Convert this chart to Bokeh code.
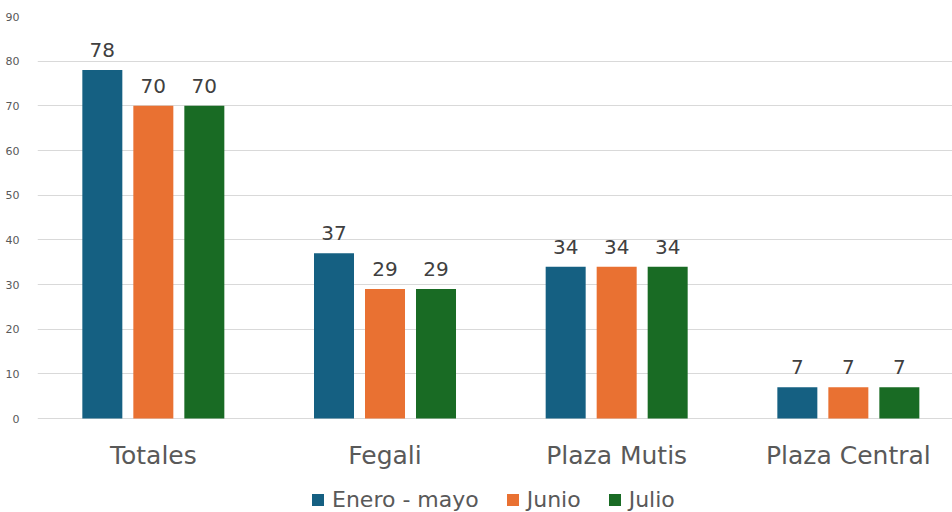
from bokeh.plotting import figure
from bokeh.models import ColumnDataSource, Range1d, FixedTicker, Legend, LegendItem
from bokeh.core.properties import value
from bokeh.embed import file_html
from bokeh.resources import INLINE

categories = ["Totales", "Fegali", "Plaza Mutis", "Plaza Central"]
series_names = ["Enero - mayo", "Junio", "Julio"]
enero_mayo = [78, 37, 34, 7]
junio = [70, 29, 34, 7]
julio = [70, 29, 34, 7]
series_values = [enero_mayo, junio, julio]
colors = ["#156082", "#E97132", "#196B24"]
y_ticks = [0, 10, 20, 30, 40, 50, 60, 70, 80, 90]

FONT = "DejaVu Sans"
W, H = 952, 512
left, top = 37, 16          # frame origin in pixels
zero_px = 418               # pixel row of value 0
cat_px = 231.67             # pixel width of one category band
bar_px = 40
step_px = 51

frame_w = W - left
px_per_unit = (zero_px - top) / 90.0
y_min = -(H - zero_px) / px_per_unit

p = figure(width=W, height=H,
           x_range=Range1d(0, frame_w / cat_px), y_range=Range1d(y_min, 90),
           output_backend="svg", toolbar_location=None,
           min_border_left=left, min_border_right=0, min_border_top=top, min_border_bottom=0)

items = []
for j, (name, vals, col) in enumerate(zip(series_names, series_values, colors)):
    xs = [i + 0.5 + (j - 1) * step_px / cat_px for i in range(len(categories))]
    src = ColumnDataSource(dict(x=xs, top=vals, lab=[str(v) for v in vals]))
    r = p.vbar(x="x", top="top", bottom=0, width=bar_px / cat_px, source=src,
               fill_color=col, line_color=None)
    p.text(x="x", y="top", text="lab", source=src, text_align="center",
           text_baseline="alphabetic", y_offset=-20, text_font=value(FONT),
           text_font_size="20px", text_color="#404040")
    items.append(LegendItem(label=name, renderers=[r]))

cat_src = ColumnDataSource(dict(x=[i + 0.5 for i in range(len(categories))],
                                y=[0] * len(categories), t=categories))
p.text(x="x", y="y", text="t", source=cat_src, text_align="center",
       text_baseline="alphabetic", y_offset=37, text_font=value(FONT),
       text_font_size="25px", text_color="#595959")

p.outline_line_color = None
p.background_fill_color = "white"
p.border_fill_color = "white"
p.xgrid.grid_line_color = None
p.xaxis.visible = False
p.ygrid.grid_line_color = "#D9D9D9"
p.ygrid.grid_line_width = 1

p.yaxis.ticker = FixedTicker(ticks=y_ticks)
p.yaxis.axis_line_color = None
p.yaxis.major_tick_line_color = None
p.yaxis.minor_tick_line_color = None
p.yaxis.major_label_text_font = FONT
p.yaxis.major_label_text_font_size = "11px"
p.yaxis.major_label_text_color = "#595959"
p.yaxis.major_label_standoff = 12

legend = Legend(items=items, orientation="horizontal", location=(273, 0),
                border_line_color=None, background_fill_alpha=0,
                label_text_font=FONT, label_text_font_size="22px",
                label_text_color="#595959", glyph_width=15, glyph_height=15,
                spacing=26, label_standoff=7, padding=0, margin=0)
p.add_layout(legend)

open("out.html", "w").write(file_html(p, INLINE))
